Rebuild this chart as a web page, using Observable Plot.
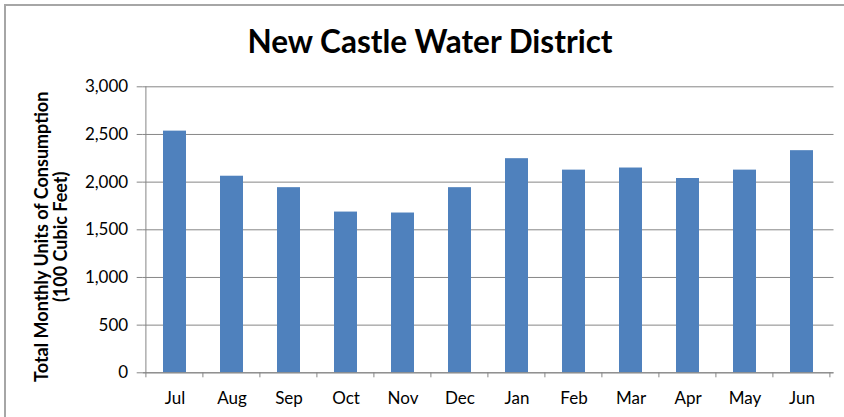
<!DOCTYPE html>
<html>
<head>
<meta charset="utf-8">
<script src="https://cdn.jsdelivr.net/npm/d3@7"></script>
<script src="https://cdn.jsdelivr.net/npm/@observablehq/plot@0.6"></script>
<style>
  html, body { margin: 0; padding: 0; background: #fff; }
  #wrap { position: relative; width: 844px; height: 417px; overflow: hidden; background: #fff; }
  #border { position: absolute; left: 4px; top: 4px; width: 900px; height: 500px;
            border-top: 2px solid #a6a6a6; border-left: 2px solid #a6a6a6; box-sizing: border-box; }
  #title { position: absolute; left: 0; top: 26px; width: 860px; text-align: center;
           font-family: Lato, "Open Sans", sans-serif; font-weight: bold; font-size: 31.5px;
           line-height: 31px; color: #000; }
  #chart { position: absolute; left: 0; top: 76px; }
  #chart svg [aria-label^="y-axis"] line, #chart svg [aria-label^="y-axis"] path { stroke: #868686; }
</style>
</head>
<body>
<div id="wrap">
  <div id="border"></div>
  <div id="title">New Castle Water District</div>
  <div id="chart"></div>
</div>
<script>
const months = ["Jul", "Aug", "Sep", "Oct", "Nov", "Dec", "Jan", "Feb", "Mar", "Apr", "May", "Jun"];
const consumption = [2535, 2062, 1942, 1686, 1676, 1942, 2246, 2126, 2148, 2038, 2126, 2330];
const yTicks = [0, 500, 1000, 1500, 2000, 2500, 3000];
const yLabel = "Total Monthly Units of Consumption\n(100 Cubic Feet)";

const data = months.map((m, i) => ({month: m, value: consumption[i]}));

const W = 844, H = 341;
const mL = 142.7, mR = 10.5, mT = 10.3, mB = 44.7;

const plot = Plot.plot({
  width: W,
  height: H,
  marginLeft: mL,
  marginRight: mR,
  marginTop: mT,
  marginBottom: mB,
  style: {fontFamily: "Lato, 'Open Sans', sans-serif", fontSize: "17px", color: "#000", background: "transparent", overflow: "visible"},
  x: {domain: months, paddingInner: 0.6, paddingOuter: 0.3, label: null, tickSize: 0, tickPadding: 19},
  y: {domain: [0, 3000], ticks: yTicks, tickFormat: d3.format(","), tickSize: 6, tickPadding: 9, label: null},
  marks: [
    Plot.ruleY(yTicks, {stroke: "#868686", strokeWidth: 1}),
    Plot.barY(data, {x: "month", y: "value", fill: "#4F81BD"}),
    Plot.ruleY([0], {stroke: "#868686", strokeWidth: 1}),
    Plot.text([yLabel], {text: d => d, frameAnchor: "left", textAnchor: "middle", lineAnchor: "middle",
      rotate: -90, dx: -91.5, dy: 7, fontSize: 18, fontWeight: "bold", lineHeight: 1.05, fill: "#000"})
  ]
});

document.getElementById("chart").appendChild(plot);

// axis line and category boundary ticks, positioned from the plot's own scales
const xs = plot.scale("x"), ys = plot.scale("y");
const svg = d3.select(plot);
const y0 = ys.apply(0), yTop = ys.apply(3000);
const left = xs.apply(months[0]) - xs.step * xs.paddingOuter;
const g = svg.append("g").attr("stroke", "#868686").attr("stroke-width", 1);
g.append("line").attr("x1", left).attr("x2", left).attr("y1", yTop).attr("y2", y0 + 0.5);
months.concat([null]).forEach((m, i) => {
  const x = left + i * xs.step;
  g.append("line").attr("x1", x).attr("x2", x).attr("y1", y0).attr("y2", y0 + 5);
});
</script>
</body>
</html>
